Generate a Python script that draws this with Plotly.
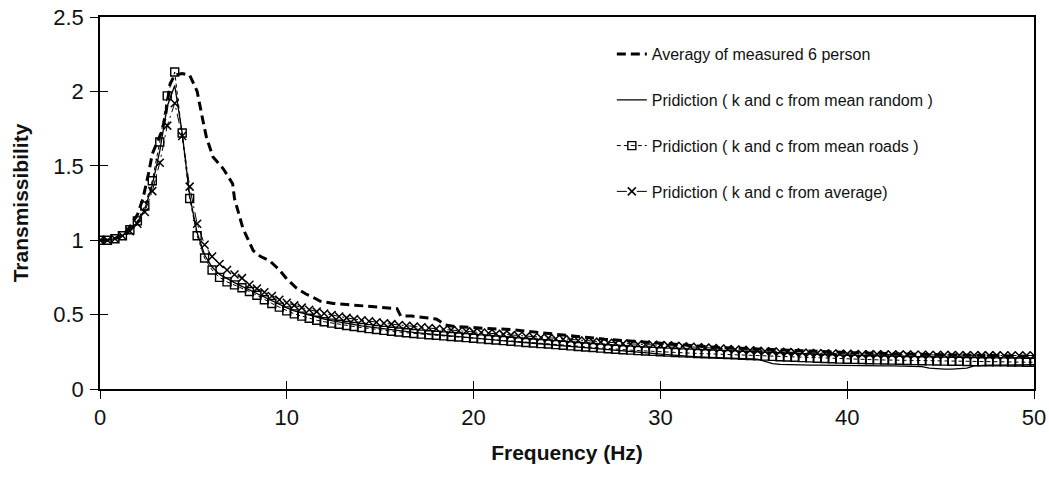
import plotly.graph_objects as go

# ---- data -------------------------------------------------------------
freq = [0.0, 0.4, 0.8, 1.2, 1.6, 2.0, 2.4, 2.8, 3.2, 3.6,
        4.0, 4.4, 4.8, 5.2, 5.6, 6.0, 6.4, 6.8, 7.2, 7.6,
        8.0, 8.4, 8.8, 9.2, 9.6, 10.0, 10.4, 10.8, 11.2, 11.6,
        12.0, 12.4, 12.8, 13.2, 13.6, 14.0, 14.4, 14.8, 15.2, 15.6,
        16.0, 16.4, 16.8, 17.2, 17.6, 18.0, 18.4, 18.8, 19.2, 19.6,
        20.0, 20.4, 20.8, 21.2, 21.6, 22.0, 22.4, 22.8, 23.2, 23.6,
        24.0, 24.4, 24.8, 25.2, 25.6, 26.0, 26.4, 26.8, 27.2, 27.6,
        28.0, 28.4, 28.8, 29.2, 29.6, 30.0, 30.4, 30.8, 31.2, 31.6,
        32.0, 32.4, 32.8, 33.2, 33.6, 34.0, 34.4, 34.8, 35.2, 35.6,
        36.0, 36.4, 36.8, 37.2, 37.6, 38.0, 38.4, 38.8, 39.2, 39.6,
        40.0, 40.4, 40.8, 41.2, 41.6, 42.0, 42.4, 42.8, 43.2, 43.6,
        44.0, 44.4, 44.8, 45.2, 45.6, 46.0, 46.4, 46.8, 47.2, 47.6,
        48.0, 48.4, 48.8, 49.2, 49.6, 50.0]

pred_random = [1.00, 1.00, 1.01, 1.03, 1.07, 1.12, 1.21, 1.37, 1.60, 1.90,
               2.04, 1.72, 1.30, 1.05, 0.90, 0.82, 0.77, 0.74, 0.715, 0.69,
               0.665, 0.64, 0.615, 0.59, 0.565, 0.545, 0.525, 0.51, 0.495, 0.482,
               0.47, 0.46, 0.45, 0.44, 0.432, 0.424, 0.417, 0.41, 0.404, 0.398,
               0.392, 0.386, 0.38, 0.375, 0.37, 0.365, 0.36, 0.356, 0.352, 0.348,
               0.34, 0.336, 0.332, 0.328, 0.324, 0.32, 0.316, 0.312, 0.308, 0.304,
               0.30, 0.296, 0.292, 0.288, 0.284, 0.28, 0.276, 0.272, 0.268, 0.264,
               0.26, 0.255, 0.25, 0.245, 0.24, 0.235, 0.23, 0.226, 0.222, 0.219,
               0.216, 0.214, 0.212, 0.21, 0.208, 0.206, 0.204, 0.202, 0.2, 0.185,
               0.17, 0.165, 0.163, 0.162, 0.161, 0.16, 0.16, 0.159, 0.159, 0.158,
               0.158, 0.157, 0.157, 0.156, 0.156, 0.155, 0.155, 0.154, 0.154, 0.153,
               0.15, 0.14, 0.134, 0.133, 0.133, 0.134, 0.14, 0.155, 0.16, 0.16,
               0.16, 0.161, 0.161, 0.162, 0.162, 0.163]

pred_roads = [1.00, 1.00, 1.01, 1.03, 1.07, 1.13, 1.23, 1.40, 1.66, 1.97,
              2.13, 1.72, 1.28, 1.03, 0.88, 0.80, 0.75, 0.72, 0.70, 0.68,
              0.655, 0.63, 0.60, 0.575, 0.55, 0.525, 0.505, 0.49, 0.475, 0.462,
              0.452, 0.443, 0.435, 0.427, 0.42, 0.413, 0.406, 0.40, 0.394, 0.388,
              0.383, 0.378, 0.373, 0.369, 0.365, 0.361, 0.357, 0.353, 0.349, 0.345,
              0.341, 0.337, 0.333, 0.329, 0.325, 0.321, 0.317, 0.313, 0.309, 0.305,
              0.302, 0.298, 0.294, 0.29, 0.286, 0.282, 0.279, 0.275, 0.271, 0.267,
              0.264, 0.261, 0.258, 0.255, 0.253, 0.25, 0.248, 0.245, 0.243, 0.241,
              0.239, 0.237, 0.235, 0.233, 0.231, 0.229, 0.227, 0.225, 0.223, 0.221,
              0.219, 0.217, 0.215, 0.213, 0.211, 0.209, 0.207, 0.205, 0.203, 0.201,
              0.20, 0.199, 0.198, 0.197, 0.196, 0.195, 0.194, 0.193, 0.192, 0.191,
              0.19, 0.189, 0.188, 0.187, 0.186, 0.186, 0.185, 0.184, 0.183, 0.183,
              0.182, 0.182, 0.181, 0.181, 0.18, 0.18]

pred_average = [1.00, 1.00, 1.01, 1.03, 1.06, 1.11, 1.19, 1.33, 1.52, 1.77,
                1.92, 1.70, 1.36, 1.11, 0.97, 0.89, 0.84, 0.80, 0.77, 0.745,
                0.70, 0.675, 0.65, 0.625, 0.60, 0.58, 0.562, 0.547, 0.533, 0.52,
                0.508, 0.497, 0.487, 0.478, 0.47, 0.462, 0.455, 0.448, 0.442, 0.436,
                0.43, 0.425, 0.42, 0.415, 0.41, 0.405, 0.40, 0.396, 0.392, 0.388,
                0.384, 0.38, 0.375, 0.371, 0.367, 0.362, 0.358, 0.354, 0.35, 0.346,
                0.342, 0.338, 0.334, 0.33, 0.326, 0.322, 0.318, 0.315, 0.311, 0.308,
                0.305, 0.303, 0.301, 0.299, 0.297, 0.295, 0.293, 0.29, 0.287, 0.284,
                0.281, 0.278, 0.275, 0.272, 0.269, 0.266, 0.263, 0.26, 0.257, 0.254,
                0.252, 0.25, 0.248, 0.246, 0.244, 0.242, 0.24, 0.239, 0.238, 0.237,
                0.236, 0.235, 0.234, 0.233, 0.233, 0.232, 0.232, 0.231, 0.231, 0.23,
                0.23, 0.229, 0.229, 0.228, 0.228, 0.227, 0.227, 0.227, 0.226, 0.226,
                0.226, 0.225, 0.225, 0.225, 0.225, 0.225]

freq_meas = [0, 0.5, 1.0, 1.5, 2.0, 2.3, 2.6, 2.8, 3.0, 3.3,
             3.5, 3.75, 4.0, 4.4, 4.8, 5.2, 5.5, 5.7, 6.05, 6.6,
             7.1, 7.2, 7.65, 8.2, 8.6, 9.1, 9.6, 10.0, 10.5, 11.0,
             11.5, 11.8, 12.5, 14.0, 15.0, 15.9, 16.1, 16.7, 18.0, 18.5,
             19.0, 20.0, 21.0, 22.0, 23.0, 25.0, 27.0, 30.0, 33.0, 35.0,
             38.0, 40.0, 43.0, 45.0, 48.0, 50.0]
measured = [1.0, 1.0, 1.02, 1.07, 1.17, 1.28, 1.45, 1.58, 1.64, 1.73,
            1.83, 2.05, 2.11, 2.12, 2.11, 2.0, 1.81, 1.69, 1.56, 1.48,
            1.38, 1.28, 1.08, 0.93, 0.89, 0.86, 0.80, 0.74, 0.68, 0.64,
            0.61, 0.59, 0.575, 0.56, 0.55, 0.54, 0.49, 0.49, 0.47, 0.43,
            0.42, 0.41, 0.405, 0.40, 0.385, 0.36, 0.335, 0.305, 0.28, 0.27,
            0.255, 0.245, 0.235, 0.23, 0.225, 0.22]

names = ["Averagy of measured 6 person",
         "Pridiction ( k and c from mean random )",
         "Pridiction ( k and c from mean roads )",
         "Pridiction ( k and c from average)"]

x_ticks = [0, 10, 20, 30, 40, 50]
y_ticks = [0, 0.5, 1, 1.5, 2, 2.5]
y_tick_text = ["0", "0.5", "1", "1.5", "2", "2.5"]

# ---- figure -----------------------------------------------------------
FONT = "Liberation Sans, Arial, sans-serif"
fig = go.Figure()

fig.add_trace(go.Scatter(
    x=freq_meas, y=measured, name=names[0], mode="lines", legendgroup="a",
    line=dict(color="black", width=3, dash="9px,5px")))
fig.add_trace(go.Scatter(
    x=freq, y=pred_random, name=names[1], mode="lines", legendgroup="b",
    line=dict(color="black", width=1.3)))
fig.add_trace(go.Scatter(
    x=freq, y=pred_roads, name=names[2], mode="lines+markers", legendgroup="c",
    line=dict(color="black", width=1, dash="4px,3px"),
    marker=dict(symbol="square-open", size=8, color="black",
                line=dict(width=1.4, color="black"))))
fig.add_trace(go.Scatter(
    x=freq, y=pred_average, name=names[3], mode="lines+markers", legendgroup="d",
    line=dict(color="black", width=1, dash="10px,4px,2px,4px"),
    marker=dict(symbol="x-thin-open", size=8, color="black",
                line=dict(width=1.5, color="black"))))
# helper trace for inner tick marks on overlay axes
fig.add_trace(go.Scatter(x=[None], y=[None], xaxis="x2", yaxis="y2",
                         showlegend=False, hoverinfo="skip"))

fig.update_layout(
    width=1049, height=481,
    margin=dict(l=100, r=15, t=17, b=92),
    paper_bgcolor="white", plot_bgcolor="white",
    font=dict(family=FONT, color="#111", size=16),
    showlegend=True,
    legend=dict(x=0.548, y=0.946, xanchor="left", yanchor="top",
                bgcolor="rgba(0,0,0,0)", borderwidth=0,
                font=dict(size=16, family=FONT, color="#111"),
                tracegroupgap=22, traceorder="grouped"),
    xaxis=dict(range=[0, 50], tickvals=x_ticks, ticks="outside", ticklen=8,
               tickwidth=1.2, tickcolor="black", showgrid=False, zeroline=False,
               showline=True, linecolor="black", linewidth=1.6, mirror=True,
               automargin=False,
               tickfont=dict(size=22, family=FONT, color="#111"),
               title=dict(text="<b>Frequency (Hz)</b>", standoff=16,
                          font=dict(size=21, family=FONT, color="#111"))),
    yaxis=dict(range=[0, 2.5], tickvals=y_ticks, ticktext=y_tick_text,
               ticks="outside", ticklen=8, tickwidth=1.2, tickcolor="black",
               showgrid=False, zeroline=False, showline=True, linecolor="black",
               linewidth=1.6, mirror=True, ticklabelstandoff=2, automargin=False,
               tickfont=dict(size=22, family=FONT, color="#111"),
               title=dict(text="<b>Transmissibility</b>", standoff=19,
                          font=dict(size=21, family=FONT, color="#111"))),
    xaxis2=dict(range=[0, 50], tickvals=x_ticks, ticks="inside", ticklen=8,
                tickwidth=1.2, tickcolor="black", overlaying="x", anchor="y",
                showticklabels=False, showgrid=False, zeroline=False,
                showline=False, automargin=False),
    yaxis2=dict(range=[0, 2.5], tickvals=y_ticks, ticks="inside", ticklen=8,
                tickwidth=1.2, tickcolor="black", overlaying="y", anchor="x",
                side="left", showticklabels=False, showgrid=False,
                zeroline=False, showline=False, automargin=False),
)

fig.write_html("out.html")
